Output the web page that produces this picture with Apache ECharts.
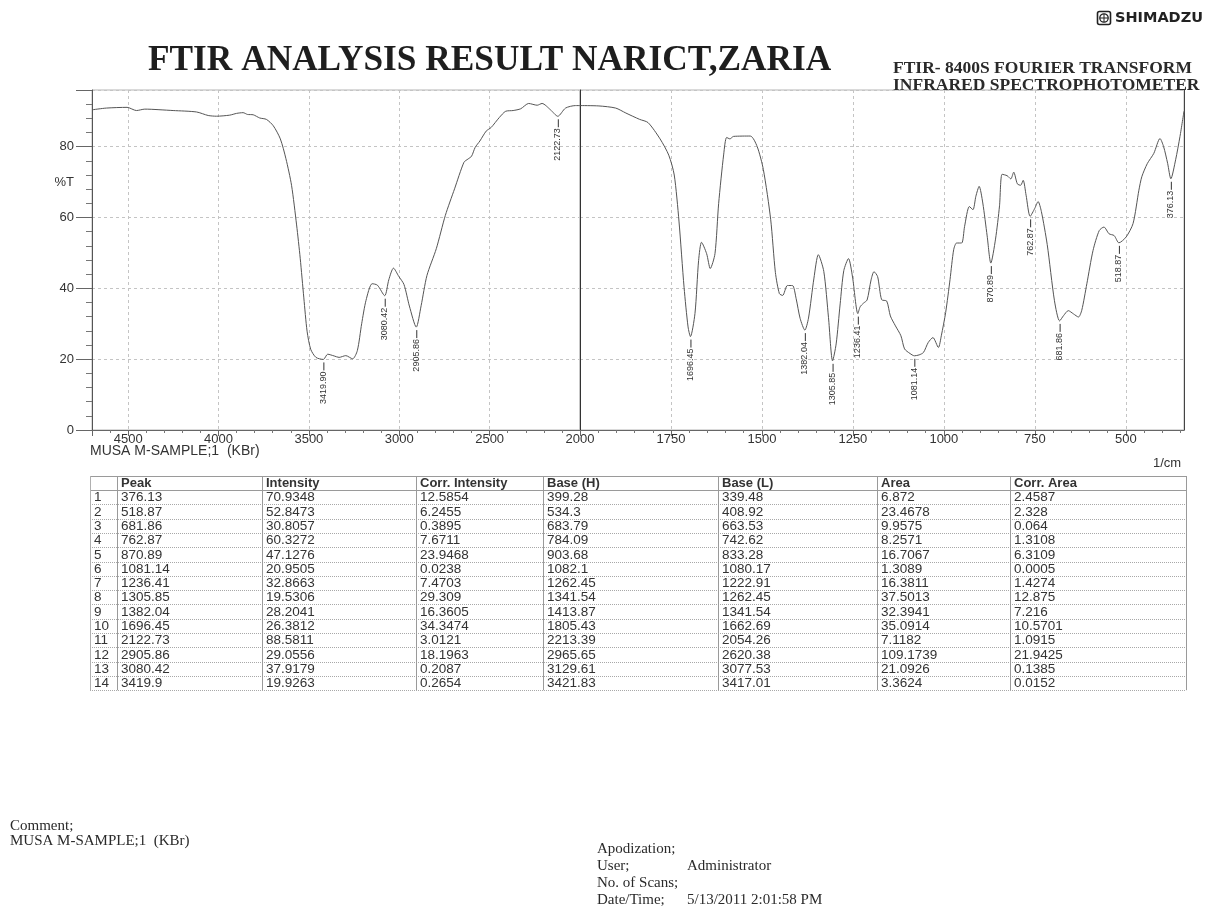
<!DOCTYPE html>
<html>
<head>
<meta charset="utf-8">
<title>FTIR Analysis Result</title>
<script src="https://cdn.jsdelivr.net/npm/echarts@6/dist/echarts.min.js"></script>
<style>
  html, body { margin: 0; padding: 0; background: #fff; }
  #main { width: 1207px; height: 924px; }
</style>
</head>
<body>
<div id="main"></div>
<script>
// ---- Peak pick table ----
const peakWn        = [376.13, 518.87, 681.86, 762.87, 870.89, 1081.14, 1236.41, 1305.85, 1382.04, 1696.45, 2122.73, 2905.86, 3080.42, 3419.9];
const peakIntensity = [70.9348, 52.8473, 30.8057, 60.3272, 47.1276, 20.9505, 32.8663, 19.5306, 28.2041, 26.3812, 88.5811, 29.0556, 37.9179, 19.9263];
const corrIntensity = [12.5854, 6.2455, 0.3895, 7.6711, 23.9468, 0.0238, 7.4703, 29.309, 16.3605, 34.3474, 3.0121, 18.1963, 0.2087, 0.2654];
const baseHigh      = [399.28, 534.3, 683.79, 784.09, 903.68, 1082.1, 1262.45, 1341.54, 1413.87, 1805.43, 2213.39, 2965.65, 3129.61, 3421.83];
const baseLow       = [339.48, 408.92, 663.53, 742.62, 833.28, 1080.17, 1222.91, 1262.45, 1341.54, 1662.69, 2054.26, 2620.38, 3077.53, 3417.01];
const peakArea      = [6.872, 23.4678, 9.9575, 8.2571, 16.7067, 1.3089, 16.3811, 37.5013, 32.3941, 35.0914, 7.1182, 109.1739, 21.0926, 3.3624];
const corrArea      = [2.4587, 2.328, 0.064, 1.3108, 6.3109, 0.0005, 1.4274, 12.875, 7.216, 10.5701, 1.0915, 21.9425, 0.1385, 0.0152];
const tableHeaders  = ['Peak', 'Intensity', 'Corr. Intensity', 'Base (H)', 'Base (L)', 'Area', 'Corr. Area'];

// ---- Spectrum trace, [wavenumber 1/cm, %T], between the picked peaks ----
const traceHigh = [
  [4700, 90.4], [4620, 90.9], [4506, 91.1], [4454, 90.2], [4408, 90.6], [4251, 90.2], [4122, 89.8],
  [4057, 88.8], [4011, 88.6], [3938, 88.9], [3900, 89.4], [3864, 89.6], [3840, 89.1], [3808, 89.0],
  [3772, 88.1], [3735, 87.7], [3697, 85.9], [3658, 82.2], [3627, 76.6], [3596, 69.1], [3568, 57.9],
  [3548, 48.5], [3528, 37.3], [3510, 27.9], [3490, 22.8], [3461, 20.5], [3396, 21.4], [3360, 20.9],
  [3333, 20.5], [3296, 21.0], [3258, 20.1], [3232, 22.4], [3208, 30.0], [3184, 36.6], [3150, 41.3],
  [3121, 40.9], [3058, 42.4], [3032, 45.7], [3003, 43.4], [2974, 41.1], [2944, 35.0], [2879, 35.1],
  [2847, 43.6], [2795, 51.2], [2745, 60.6], [2694, 68.1], [2642, 75.6], [2620, 76.5], [2600, 77.3],
  [2580, 79.8], [2554, 81.6], [2519, 84.4], [2492, 85.4], [2447, 88.2], [2411, 90.0], [2370, 90.2],
  [2328, 90.7], [2284, 92.2], [2237, 91.7], [2210, 92.2], [2163, 90.4], [2080, 90.9], [2025, 91.6],
  [2000, 91.6]
];
const traceLow = [
  [2000, 91.6], [1948, 91.5], [1902, 90.9], [1874, 89.5], [1836, 87.7], [1813, 86.8], [1780, 82.2],
  [1756, 77.6], [1741, 72.0], [1728, 59.0], [1714, 40.3], [1703, 29.1], [1684, 32.9], [1674, 47.9],
  [1666, 53.0], [1652, 49.8], [1642, 45.6], [1629, 49.8], [1619, 63.9], [1605, 77.9], [1597, 82.6],
  [1588, 82.2], [1578, 82.9], [1532, 83.0], [1513, 80.0], [1496, 73.5], [1476, 59.5], [1463, 44.5],
  [1452, 38.5], [1443, 38.0], [1430, 40.8], [1416, 40.8], [1406, 37.1], [1395, 31.5], [1372, 31.6],
  [1357, 42.9], [1345, 49.5], [1330, 44.8], [1317, 31.7], [1296, 24.3], [1285, 35.6], [1275, 45.0],
  [1262, 48.4], [1251, 43.2], [1230, 34.8], [1221, 35.8], [1211, 36.7], [1200, 42.4], [1192, 44.7],
  [1182, 43.3], [1171, 36.8], [1157, 36.4], [1147, 32.2], [1133, 29.4], [1118, 26.6], [1108, 22.9],
  [1093, 21.6], [1068, 21.2], [1056, 21.9], [1043, 24.7], [1030, 26.1], [1015, 23.3], [1007, 26.6],
  [995, 33.2], [983, 42.5], [973, 50.9], [965, 52.8], [951, 52.8], [943, 57.5], [930, 63.1],
  [920, 62.2], [912, 66.0], [903, 68.8], [893, 64.1], [881, 54.8], [858, 53.9], [847, 63.3],
  [840, 72.2], [826, 71.8], [816, 70.9], [808, 72.8], [798, 69.5], [789, 69.1], [782, 70.5],
  [774, 66.3], [750, 62.6], [741, 64.5], [732, 61.7], [716, 52.4], [696, 36.5], [671, 32.3],
  [658, 33.7], [644, 32.8], [630, 31.9], [621, 33.8], [607, 41.3], [590, 50.7], [573, 56.3],
  [560, 57.3], [546, 55.4], [532, 54.9], [499, 54.5], [480, 58.3], [464, 67.7], [456, 71.5],
  [441, 75.2], [423, 78.1], [406, 82.3], [396, 80.0], [385, 75.3], [363, 76.3], [351, 82.9],
  [340, 90.0]
];

// ---- Axis ranges and ticks (the scale changes at 2000 1/cm) ----
const WN_MAX = 4700, WN_BREAK = 2000, WN_MIN = 340, T_MAX = 96;
const lowMajorTicks = [500, 750, 1000, 1250, 1500, 1750, 2000];
const lowMinorTicks = [350, 400, 450, 550, 600, 650, 700, 800, 850, 900, 950, 1050, 1100, 1150, 1200,
                       1300, 1350, 1400, 1450, 1550, 1600, 1650, 1700, 1800, 1850, 1900, 1950];
const yLabelValues = [0, 20, 40, 60, 70, 80];

const SANS = '"Liberation Sans", Arial, sans-serif';
const SERIF = '"Liberation Serif", "Times New Roman", serif';
const INK = '#2a2a2a';

// Spectrum points: traced curve merged with the picked peak minima
function withPeaks(trace, lo, hi) {
  const pts = trace.slice();
  peakWn.forEach((w, i) => { if (w > lo && w < hi) pts.push([w, peakIntensity[i]]); });
  return pts.sort((a, b) => b[0] - a[0]);
}

// Rotated peak labels hanging below each minimum
function peakLabels(axisIndex, lo, hi) {
  const data = [];
  peakWn.forEach((w, i) => { if (w > lo && w < hi) data.push([w, peakIntensity[i]]); });
  return {
    type: 'custom', xAxisIndex: axisIndex, yAxisIndex: axisIndex, data, silent: true, z: 6,
    renderItem(params, api) {
      const p = api.coord([api.value(0), api.value(1)]);
      return {
        type: 'group',
        children: [
          { type: 'line', shape: { x1: p[0] + 0.5, y1: p[1] + 3, x2: p[0] + 0.5, y2: p[1] + 11 },
            style: { stroke: '#333', lineWidth: 1 } },
          { type: 'text', x: p[0], y: p[1] + 12, rotation: Math.PI / 2,
            style: { text: api.value(0).toFixed(2), align: 'right', verticalAlign: 'middle',
                     font: '9px ' + SANS, fill: '#333' } }
        ]
      };
    }
  };
}

const axisText = { fontFamily: SANS, fontSize: 13, color: '#333' };
const gridDash = { show: true, lineStyle: { color: '#c4c4c4', type: [3, 3], width: 1 } };

// ---- Report decorations: title, header, table and footer ----
const graphics = [];
function txt(x, y, text, font, extra) {
  graphics.push(Object.assign({ type: 'text', x, y, silent: true,
    style: Object.assign({ text, font, fill: INK, align: 'left', verticalAlign: 'middle' }, extra || {}) }));
}
function seg(x1, y1, x2, y2, stroke, dash) {
  graphics.push({ type: 'line', silent: true, shape: { x1, y1, x2, y2 },
    style: { stroke, lineWidth: 1, lineDash: dash || null } });
}

// maker mark
graphics.push({ type: 'rect', silent: true, shape: { x: 1097.5, y: 11.5, width: 13, height: 13, r: 2 },
  style: { fill: 'none', stroke: '#222', lineWidth: 1.6 } });
graphics.push({ type: 'circle', silent: true, shape: { cx: 1104, cy: 18, r: 4.2 },
  style: { fill: 'none', stroke: '#222', lineWidth: 1.3 } });
seg(1104, 13.8, 1104, 22.2, '#222');
seg(1099.8, 18, 1108.2, 18, '#222');
txt(1115, 18.5, 'SHIMADZU', 'bold 14.5px "DejaVu Sans", sans-serif', { fill: '#222' });

txt(148, 61, 'FTIR ANALYSIS RESULT NARICT,ZARIA', 'bold 35.3px ' + SERIF, { fill: '#1e1e1e' });
txt(893, 68, 'FTIR- 8400S FOURIER TRANSFORM', 'bold 17.5px ' + SERIF);
txt(893, 85, 'INFRARED SPECTROPHOTOMETER', 'bold 17.5px ' + SERIF);

txt(90, 451, 'MUSA M-SAMPLE;1  (KBr)', '14px ' + SANS, { fill: '#333' });
txt(1153, 463, '1/cm', '13px ' + SANS, { fill: '#333' });

// table
const colX = [90, 117, 262, 416, 543, 718, 877, 1010, 1186];
const tTop = 476, headH = 14, rowH = 14.3;
const nRows = peakWn.length;
const tBottom = tTop + headH + nRows * rowH;
const columns = [peakWn, peakIntensity, corrIntensity, baseHigh, baseLow, peakArea, corrArea];
seg(colX[0], tTop + 0.5, colX[8], tTop + 0.5, '#9a9a9a');
seg(colX[0], tTop + headH + 0.5, colX[8], tTop + headH + 0.5, '#9a9a9a');
for (let r = 1; r <= nRows; r++) {
  const y = Math.round(tTop + headH + r * rowH) + 0.5;
  seg(colX[0], y, colX[8], y, '#a8a8a8', [1, 1]);
}
colX.forEach((x, i) => seg(x + 0.5, tTop, x + 0.5, tBottom, i === 0 ? '#b0b0b0' : '#9a9a9a'));
tableHeaders.forEach((h, c) => txt(colX[c + 1] + 4, tTop + headH / 2 + 0.5, h, 'bold 13px ' + SANS, { fill: '#333' }));
for (let r = 0; r < nRows; r++) {
  const yc = tTop + headH + r * rowH + rowH / 2 + 0.5;
  txt(colX[0] + 4, yc, String(r + 1), '13.5px ' + SANS, { fill: '#333' });
  columns.forEach((col, c) => txt(colX[c + 1] + 4, yc, String(col[r]), '13.5px ' + SANS, { fill: '#333' }));
}

// footer
txt(10, 826, 'Comment;', '15px ' + SERIF);
txt(10, 841, 'MUSA M-SAMPLE;1  (KBr)', '15px ' + SERIF);
txt(597, 849, 'Apodization;', '15px ' + SERIF);
txt(597, 866, 'User;', '15px ' + SERIF);
txt(687, 866, 'Administrator', '15px ' + SERIF);
txt(597, 883, 'No. of Scans;', '15px ' + SERIF);
txt(597, 900, 'Date/Time;', '15px ' + SERIF);
txt(687, 900, '5/13/2011 2:01:58 PM', '15px ' + SERIF);

const chart = echarts.init(document.getElementById('main'), null, { renderer: 'canvas' });
chart.setOption({
  backgroundColor: '#ffffff',
  animation: false,
  grid: [
    { left: 92, top: 90, width: 488, height: 340, show: true, borderColor: '#b5b5b5', borderWidth: 1, backgroundColor: 'transparent' },
    { left: 580, top: 90, width: 604, height: 340, show: true, borderColor: '#b5b5b5', borderWidth: 1, backgroundColor: 'transparent' }
  ],
  xAxis: [
    { gridIndex: 0, type: 'value', position: 'bottom', inverse: true, min: WN_BREAK, max: WN_MAX, interval: 500,
      axisLine: { show: true, onZero: false, lineStyle: { color: '#666', width: 1 } },
      axisTick: { show: true, length: 6, lineStyle: { color: '#666' } },
      minorTick: { show: true, splitNumber: 5, length: 3, lineStyle: { color: '#777' } },
      axisLabel: Object.assign({ margin: 3, showMinLabel: false, showMaxLabel: false,
        formatter: v => (v === WN_BREAK ? '' : String(v)) }, axisText),
      splitLine: gridDash },
    { gridIndex: 1, type: 'value', position: 'bottom', inverse: true, min: WN_MIN, max: WN_BREAK,
      axisLine: { show: true, onZero: false, lineStyle: { color: '#666', width: 1 } },
      axisTick: { show: true, length: 6, customValues: lowMajorTicks, lineStyle: { color: '#666' } },
      axisLabel: Object.assign({ margin: 3, customValues: lowMajorTicks, formatter: v => String(v) }, axisText),
      splitLine: gridDash },
    { gridIndex: 1, type: 'value', position: 'bottom', offset: 0, inverse: true, min: WN_MIN, max: WN_BREAK,
      axisLine: { show: false, onZero: false },
      axisTick: { show: true, length: 3, customValues: lowMinorTicks, lineStyle: { color: '#777' } },
      axisLabel: { show: false }, splitLine: { show: false } }
  ],
  yAxis: [
    { gridIndex: 0, type: 'value', min: 0, max: T_MAX, interval: 20,
      axisLine: { show: true, onZero: false, lineStyle: { color: '#555', width: 1 } },
      axisTick: { show: true, length: 16, lineStyle: { color: '#666' } },
      minorTick: { show: true, splitNumber: 5, length: 6, lineStyle: { color: '#777' } },
      axisLabel: Object.assign({ margin: 18, customValues: yLabelValues,
        formatter: v => (v === 70 ? '%T' : String(v)) }, axisText),
      splitLine: gridDash },
    { gridIndex: 1, type: 'value', min: 0, max: T_MAX, interval: 20,
      axisLine: { show: true, onZero: false, lineStyle: { color: '#333', width: 1 } },
      axisTick: { show: false }, axisLabel: { show: false }, splitLine: gridDash },
    { gridIndex: 1, type: 'value', position: 'right', min: 0, max: T_MAX,
      axisLine: { show: true, onZero: false, lineStyle: { color: '#444', width: 1 } },
      axisTick: { show: false }, axisLabel: { show: false }, splitLine: { show: false } }
  ],
  series: [
    { type: 'line', xAxisIndex: 0, yAxisIndex: 0, data: withPeaks(traceHigh, WN_BREAK, WN_MAX + 1),
      showSymbol: false, symbol: 'none', smooth: 0.25, lineStyle: { color: '#555', width: 1 }, silent: true },
    { type: 'line', xAxisIndex: 1, yAxisIndex: 1, data: withPeaks(traceLow, WN_MIN - 1, WN_BREAK),
      showSymbol: false, symbol: 'none', smooth: 0.25, lineStyle: { color: '#555', width: 1 }, silent: true },
    peakLabels(0, WN_BREAK, WN_MAX),
    peakLabels(1, WN_MIN, WN_BREAK)
  ],
  graphic: { elements: graphics }
});
</script>
</body>
</html>
